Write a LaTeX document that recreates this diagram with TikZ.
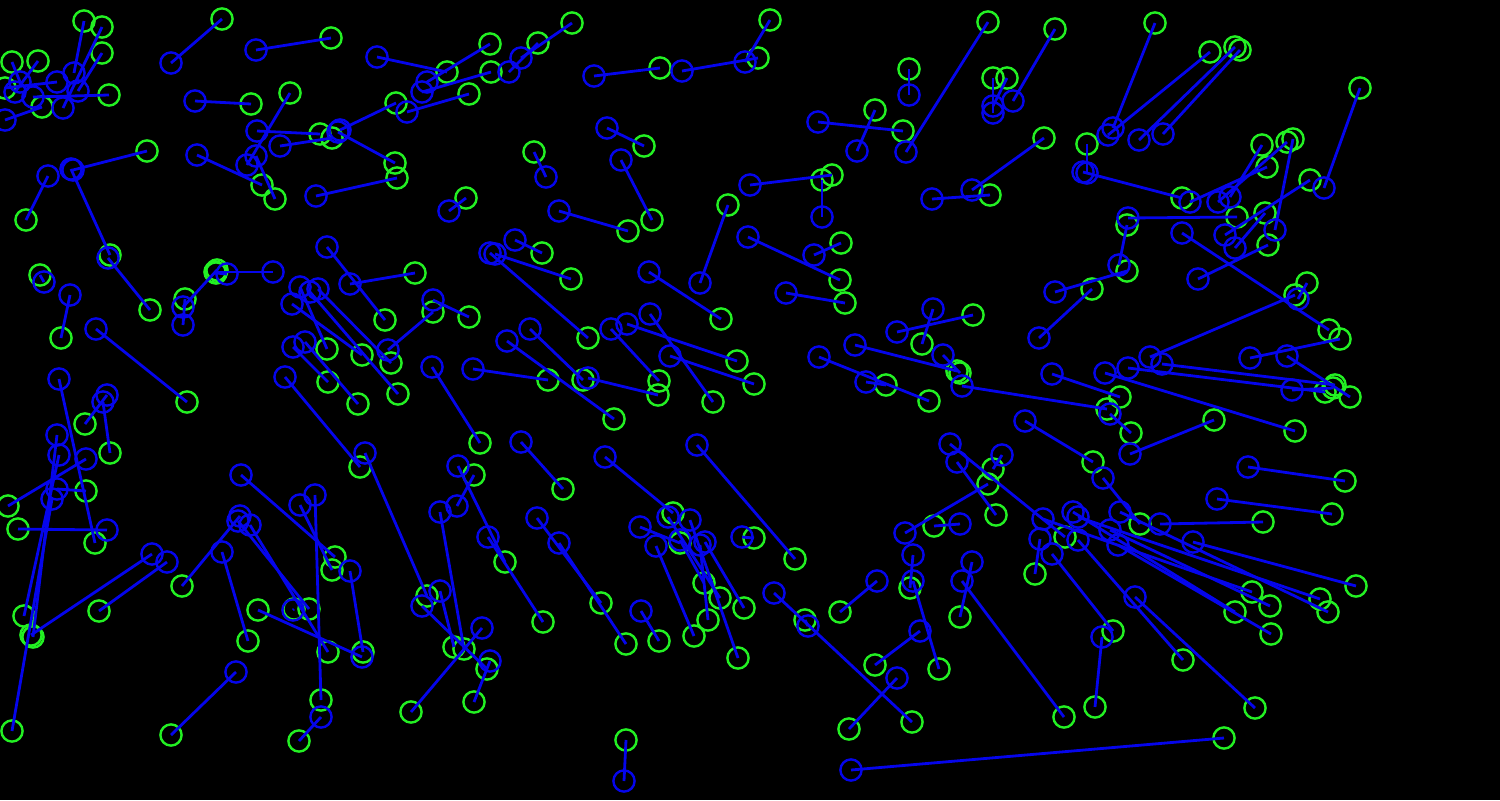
\documentclass[tikz,border=0pt]{standalone}
\definecolor{grn}{RGB}{35,240,35}
\definecolor{blu}{RGB}{5,5,235}
\tikzset{
  gc/.style={circle, draw=grn, line width=1.2pt, minimum size=10.6pt, inner sep=0pt},
  bc/.style={circle, draw=blu, line width=1.2pt, minimum size=10.6pt, inner sep=0pt},
  ln/.style={draw=blu, line width=1.4pt}
}
\def\pairlist{1/74/73/84/21, 2/63/108/102/27, 3/78/91/102/53, 4/20/82/12/62, 5/15/92/38/61,
6/33/97/109/95, 7/57/82/5/88, 8/5/120/42/107, 9/171/63/222/19, 10/256/50/331/38,
11/377/57/447/72, 12/195/101/251/104, 13/247/165/290/93, 14/257/131/320/134, 15/280/146/332/138,
16/340/130/396/103, 17/338/132/395/163, 18/197/155/262/185, 19/256/156/275/199, 20/316/196/397/178,
21/73/170/147/151, 22/71/169/110/255, 23/48/176/26/220, 24/327/247/385/320, 25/521/58/572/23,
26/509/72/538/43, 27/427/82/490/44, 28/422/92/491/72, 29/407/112/469/94, 30/594/76/660/68,
31/682/71/758/58, 32/745/62/770/20, 33/607/128/644/146, 34/621/160/652/220, 35/546/177/534/152,
36/449/211/466/198, 37/559/211/628/231, 38/700/283/728/205, 39/750/185/832/175, 40/822/217/822/180,
41/748/237/840/280, 42/515/240/542/253, 43/495/254/571/279, 44/490/253/588/338, 45/909/95/909/69,
46/818/122/903/131, 47/857/151/875/110, 48/906/152/988/22, 49/1013/101/1055/29, 50/993/113/993/78,
51/993/106/1007/78, 52/972/190/1044/138, 53/932/199/990/195, 54/1087/173/1087/144, 55/1083/172/1182/198,
56/1113/128/1155/23, 57/1108/135/1210/52, 58/1139/140/1235/47, 59/1163/134/1240/50, 60/1324/188/1360/88,
61/814/255/841/243, 62/1128/218/1237/217, 63/1119/265/1127/225, 64/1230/197/1262/145, 65/1218/202/1287/142,
66/1275/230/1293/139, 67/1190/202/1267/167, 68/1225/235/1310/180, 69/1235/248/1265/213, 70/1198/279/1268/245,
71/1182/233/1329/330, 72/1150/357/1295/295, 73/1298/299/1307/283, 74/1250/358/1340/339, 75/1287/356/1350/397,
76/1128/368/1325/392, 77/1162/364/1335/385, 78/1105/373/1295/431, 79/1292/390/1333/388, 80/1052/374/1120/397,
81/1130/454/1214/420, 82/1248/467/1345/481, 83/1217/499/1332/514, 84/1160/524/1263/522, 85/1055/292/1127/271,
86/1039/338/1092/289, 87/1110/414/1131/433, 88/962/386/1107/409, 89/786/293/845/303, 90/933/309/922/344,
91/897/332/973/315, 92/855/345/957/371, 93/943/355/960/373, 94/819/357/929/401, 95/866/382/886/385,
96/1025/421/1093/462, 97/950/444/1065/537, 98/957/462/996/515, 99/1002/455/993/469, 100/905/533/988/484,
101/960/524/934/526, 102/1043/519/1252/592, 103/1073/512/1235/612, 104/1078/517/1320/599, 105/1110/530/1270/606,
106/1118/545/1271/634, 107/1120/512/1328/612, 108/1193/542/1356/586, 109/1103/478/1140/524, 110/1040/539/1035/574,
111/1052/554/1113/631, 112/1102/637/1095/707, 113/1135/597/1255/708, 114/1078/540/1183/660, 115/851/770/1224/738,
116/774/593/912/722, 117/808/626/805/620, 118/877/581/840/612, 119/913/555/910/588, 120/913/581/939/669,
121/920/631/875/665, 122/897/678/849/729, 123/972/562/960/617, 124/962/581/1064/717, 125/697/445/795/559,
126/605/457/673/513, 127/668/517/720/598, 128/690/520/738/658, 129/680/540/704/583, 130/705/542/744/608,
131/700/545/708/620, 132/656/546/694/636, 133/640/527/680/543, 134/559/543/626/644, 135/537/518/601/603,
136/641/611/659/641, 137/742/537/754/538, 138/624/781/626/740, 139/521/442/563/489, 140/488/537/543/622,
141/458/466/505/562, 142/457/506/474/475, 143/432/367/480/443, 144/365/453/427/596, 145/440/512/464/649,
146/440/591/454/647, 147/422/606/487/669, 148/482/628/411/712, 149/490/661/474/702, 150/530/329/583/380,
151/588/378/658/395, 152/507/341/614/419, 153/473/369/548/380, 154/611/329/659/381, 155/627/324/737/361,
156/650/314/713/402, 157/670/356/754/384, 158/649/272/721/319, 159/433/300/469/317, 160/388/350/433/312,
161/350/284/415/273, 162/300/287/327/349, 163/292/304/362/355, 164/318/289/391/363, 165/293/347/328/382,
166/305/342/358/404, 167/285/377/360/467, 168/310/292/398/394, 169/273/272/215/272, 170/183/307/217/270,
171/183/325/185/299, 172/227/274/216/273, 173/108/258/150/310, 174/44/282/40/275, 175/70/295/61/338,
176/96/329/187/402, 177/59/379/95/543, 178/107/395/85/424, 179/103/402/110/453, 180/57/435/33/637,
181/59/455/24/616, 182/52/499/12/731, 183/86/459/8/506, 184/57/489/86/491, 185/107/530/18/529,
186/152/554/31/635, 187/167/562/99/611, 188/241/475/335/557, 189/315/495/321/700, 190/300/505/332/570,
191/350/571/363/652, 192/238/521/309/609, 193/250/525/328/652, 194/240/516/182/586, 195/222/552/248/641,
196/362/657/258/610, 197/293/610/294/609, 198/236/672/171/735, 199/321/717/299/741}
\begin{document}
\begin{tikzpicture}[x=0.5pt,y=-0.5pt]
\fill[black] (0,0) rectangle (1500,800);
\useasboundingbox (0,0) rectangle (1500,800);
\foreach \i/\bx/\by/\gx/\gy in \pairlist {
  \node[gc] (g\i) at (\gx,\gy) {};
}
\foreach \i/\bx/\by/\gx/\gy in \pairlist {
  \node[bc] (b\i) at (\bx,\by) {};
  \draw[ln] (b\i.center) -- (g\i.center);
}
\end{tikzpicture}
\end{document}
